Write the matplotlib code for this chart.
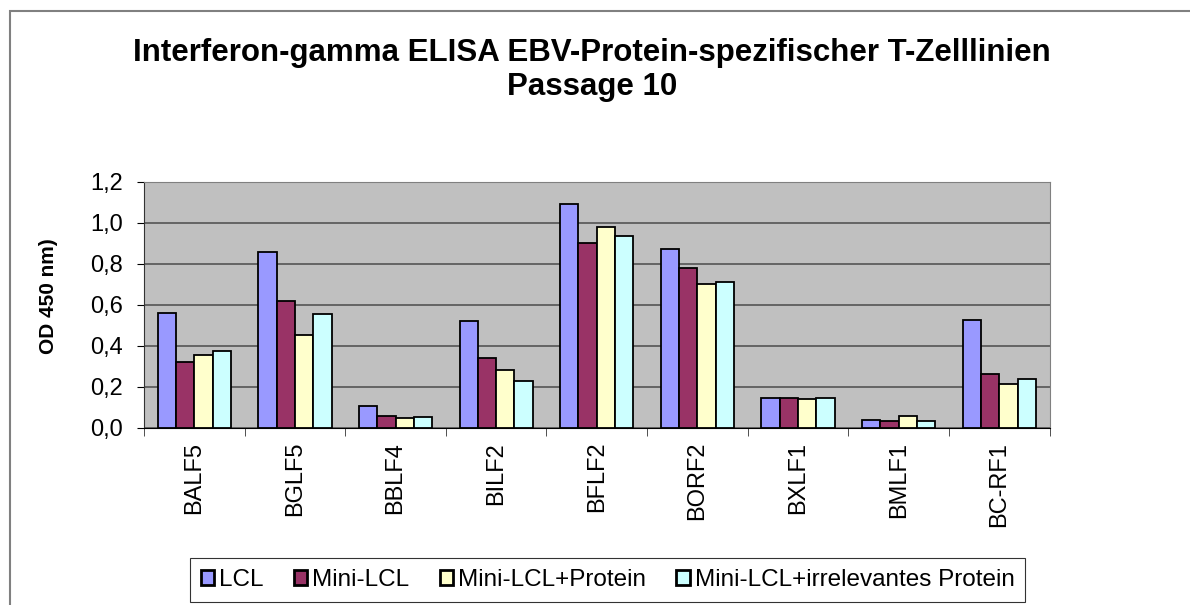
import numpy as np
import matplotlib
matplotlib.use('Agg')
import matplotlib.pyplot as plt
from matplotlib.patches import Rectangle

plt.rcParams['font.family'] = ['Liberation Sans', 'DejaVu Sans']

categories = ['BALF5', 'BGLF5', 'BBLF4', 'BILF2', 'BFLF2', 'BORF2', 'BXLF1', 'BMLF1', 'BC-RF1']
series_names = ['LCL', 'Mini-LCL', 'Mini-LCL+Protein', 'Mini-LCL+irrelevantes Protein']
lcl = [0.563, 0.859, 0.107, 0.520, 1.093, 0.873, 0.148, 0.037, 0.528]
mini_lcl = [0.320, 0.618, 0.060, 0.340, 0.904, 0.779, 0.145, 0.033, 0.263]
mini_protein = [0.358, 0.454, 0.049, 0.285, 0.979, 0.702, 0.141, 0.060, 0.215]
mini_irrelevant = [0.374, 0.558, 0.052, 0.228, 0.937, 0.714, 0.145, 0.033, 0.239]
colors = ['#9999FF', '#993366', '#FFFFCC', '#CCFFFF']

fig = plt.figure(figsize=(11.9, 6.05), dpi=100)
ax = fig.add_axes([0.121, 0.2926, 0.761, 0.4066])
ax.set_facecolor('#C0C0C0')

x = np.arange(len(categories))
w = 1 / 5.5
all_series = [lcl, mini_lcl, mini_protein, mini_irrelevant]
for i, vals in enumerate(all_series):
    ax.bar(x + (i - 1.5) * w, vals, w, color=colors[i], edgecolor='black',
           linewidth=1.3, label=series_names[i], zorder=3)

ax.set_xlim(-0.5, len(categories) - 0.5)
ax.set_ylim(0, 1.2)
yt = np.arange(0, 1.21, 0.2)
ax.set_yticks(yt)
ax.set_yticklabels([f'{v:.1f}'.replace('.', ',') for v in yt], fontsize=17)
ax.yaxis.grid(True, color='#555555', linewidth=1.2, zorder=0)
ax.set_axisbelow(True)

ax.set_xticks(x)
ax.set_xticklabels(categories, rotation=90, fontsize=17)
ax.tick_params(axis='x', length=0, pad=10)
ax.set_xticks(np.arange(-0.5, len(categories), 1), minor=True)
ax.tick_params(axis='x', which='minor', length=6, direction='out', color='#333333')
ax.tick_params(axis='y', length=5, direction='out', pad=10)

for s in ['top', 'right']:
    ax.spines[s].set_color('#808080')
ax.spines['left'].set_color('#333333')
ax.spines['bottom'].set_color('black')

fig.text(49 / 1190, 1 - 296 / 605, 'OD 450 nm)', rotation=90, ha='center', va='center',
         fontsize=15, fontweight='bold')

fig.text(592 / 1190, 1 - 53 / 605, 'Interferon-gamma ELISA EBV-Protein-spezifischer T-Zelllinien',
         ha='center', va='center', fontsize=22.5, fontweight='bold')
fig.text(592 / 1190, 1 - 87 / 605, 'Passage 10',
         ha='center', va='center', fontsize=22.5, fontweight='bold')

leg = fig.legend(loc='upper left', bbox_to_anchor=(190 / 1190, 1 - 558 / 605), ncol=4,
                 fontsize=17.5, frameon=True, fancybox=False, edgecolor='black',
                 handlelength=0.55, handleheight=0.55, handletextpad=0.2, columnspacing=1.25,
                 borderpad=0.45, borderaxespad=0)
leg.get_frame().set_linewidth(0.8)
for h in leg.legend_handles:
    h.set_linewidth(2)

fig.patches.append(Rectangle((10 / 1190, -0.05), 1.1, 1 - 11 / 605 + 0.05, transform=fig.transFigure,
                             fill=False, edgecolor='#808080', linewidth=1.5))

plt.savefig('out.png', dpi=100)
plt.close()
